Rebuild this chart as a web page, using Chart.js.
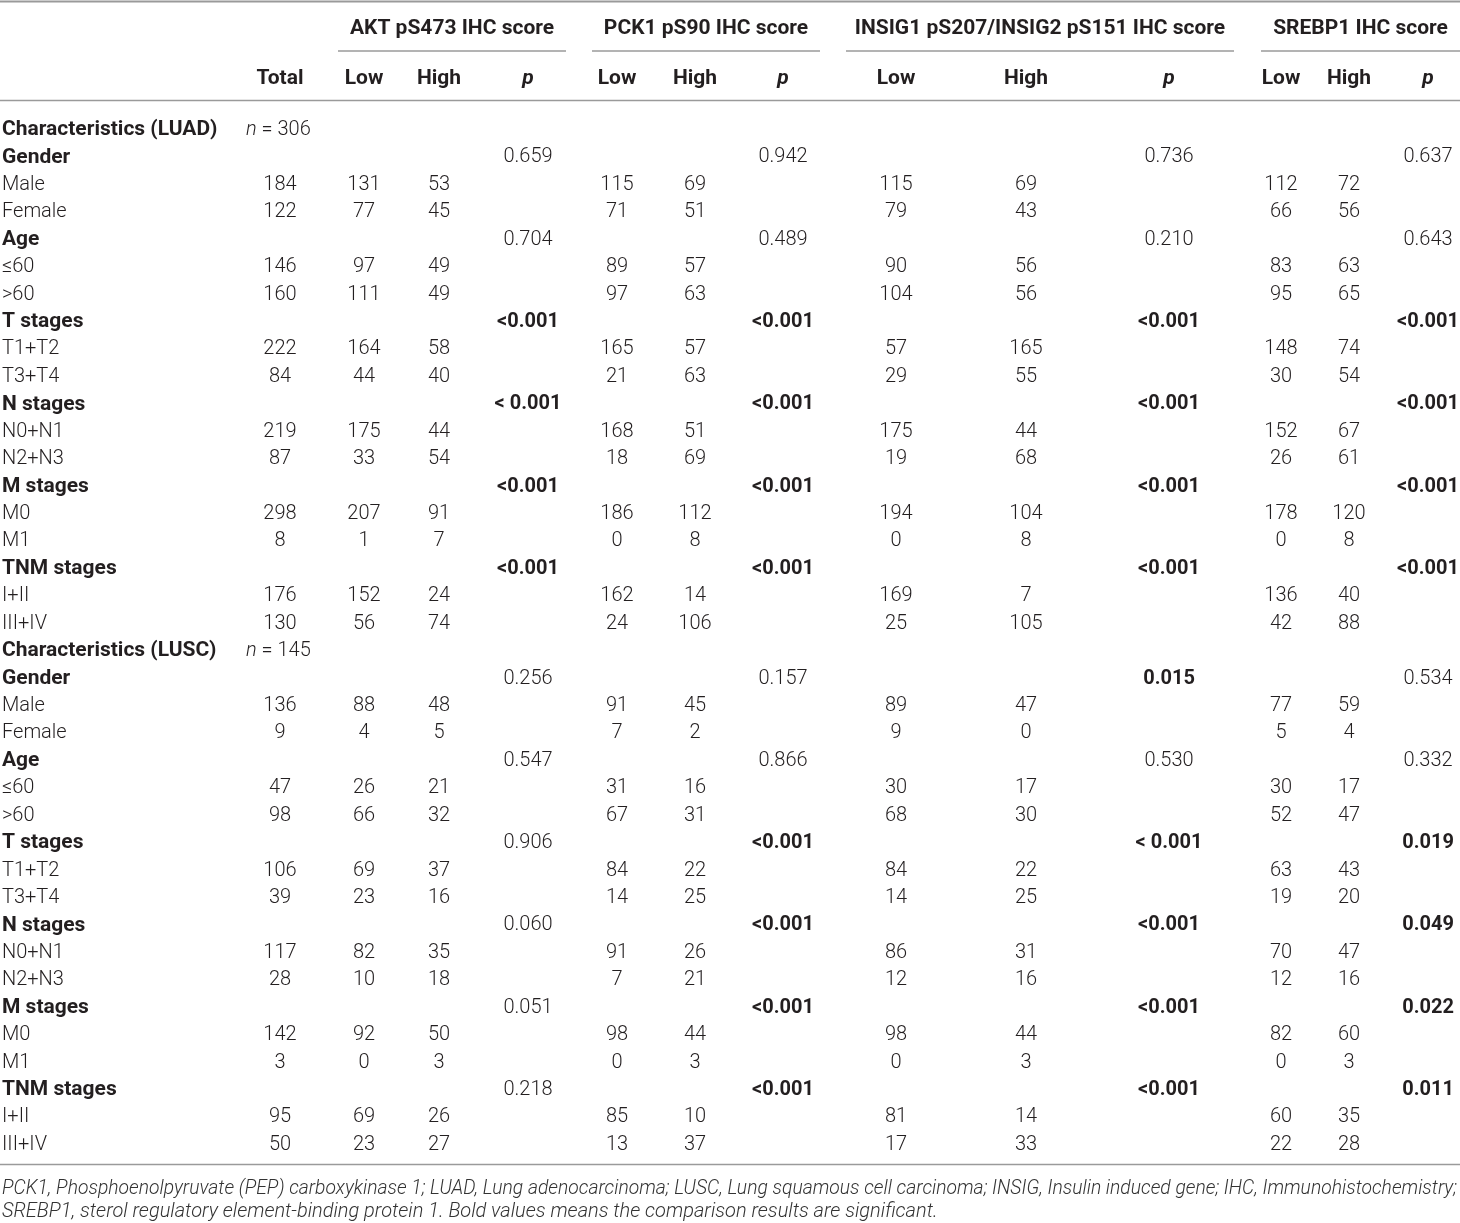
<!DOCTYPE html>
<html>
<head>
<meta charset="utf-8">
<script src="https://cdn.jsdelivr.net/npm/chart.js@4.4.1/dist/chart.umd.min.js"></script>
<style>
  html, body { margin: 0; padding: 0; background: #fff; }
  #wrap { width: 1460px; height: 1223px; }
</style>
</head>
<body>
<div id="wrap"><canvas id="tbl" width="1460" height="1223"></canvas></div>
<script>
// ─────────────────────────────────────────────
//  DATA  (first 12 / 6 entries = LUAD, last = LUSC)
// ─────────────────────────────────────────────
const cohorts  = ['Characteristics (LUAD)', 'Characteristics (LUSC)'];
const cohortN  = ['306', '145'];
const groups   = ['Gender', 'Age', 'T stages', 'N stages', 'M stages', 'TNM stages'];
const levels   = [['Male','Female'], ['≤60','>60'], ['T1+T2','T3+T4'], ['N0+N1','N2+N3'], ['M0','M1'], ['I+II','III+IV']];

const totals   = [184,122,146,160,222,84,219,87,298,8,176,130,   136,9,47,98,106,39,117,28,142,3,95,50];
const aktLow   = [131,77,97,111,164,44,175,33,207,1,152,56,      88,4,26,66,69,23,82,10,92,0,69,23];
const aktHigh  = [53,45,49,49,58,40,44,54,91,7,24,74,            48,5,21,32,37,16,35,18,50,3,26,27];
const pckLow   = [115,71,89,97,165,21,168,18,186,0,162,24,       91,7,31,67,84,14,91,7,98,0,85,13];
const pckHigh  = [69,51,57,63,57,63,51,69,112,8,14,106,          45,2,16,31,22,25,26,21,44,3,10,37];
const insLow   = [115,79,90,104,57,29,175,19,194,0,169,25,       89,9,30,68,84,14,86,12,98,0,81,17];
const insHigh  = [69,43,56,56,165,55,44,68,104,8,7,105,          47,0,17,30,22,25,31,16,44,3,14,33];
const srLow    = [112,66,83,95,148,30,152,26,178,0,136,42,       77,5,30,52,63,19,70,12,82,0,60,22];
const srHigh   = [72,56,63,65,74,54,67,61,120,8,40,88,           59,4,17,47,43,20,47,16,60,3,35,28];

const aktP = ['0.659','0.704','<0.001','< 0.001','<0.001','<0.001',  '0.256','0.547','0.906','0.060','0.051','0.218'];
const pckP = ['0.942','0.489','<0.001','<0.001','<0.001','<0.001',   '0.157','0.866','<0.001','<0.001','<0.001','<0.001'];
const insP = ['0.736','0.210','<0.001','<0.001','<0.001','<0.001',   '0.015','0.530','< 0.001','<0.001','<0.001','<0.001'];
const srP  = ['0.637','0.643','<0.001','<0.001','<0.001','<0.001',   '0.534','0.332','0.019','0.049','0.022','0.011'];

const scoreTitles = ['AKT pS473 IHC score', 'PCK1 pS90 IHC score', 'INSIG1 pS207/INSIG2 pS151 IHC score', 'SREBP1 IHC score'];
const footnote = [
  'PCK1, Phosphoenolpyruvate (PEP) carboxykinase 1; LUAD, Lung adenocarcinoma; LUSC, Lung squamous cell carcinoma; INSIG, Insulin induced gene; IHC, Immunohistochemistry;',
  'SREBP1, sterol regulatory element-binding protein 1. Bold values means the comparison results are significant.'
];

// ─────────────────────────────────────────────
//  LAYOUT
// ─────────────────────────────────────────────
const FONT = 'Roboto, "Liberation Sans", Arial, sans-serif';
const INK  = '#231f20';
const RULE = '#9a9a9a';
const FS_TXT = 21;                          // bold labels / headers
const FS_NUM = 20;                          // numbers, light labels
const ROW0 = 130, ROW_H = 27.43;            // first body row, row pitch
// column centres: total, then low/high/p for each score
const colX = [280, 364, 439, 528, 617, 695, 783, 896, 1026, 1169, 1281, 1349, 1428];
const spans = [[338, 566], [592, 820], [846, 1234], [1261, 1460]];

const sig = p => parseFloat(p.replace(/[<\s]/g, '')) < 0.05;

// build cells: {x, y(row units), t, w(weight), it, al, fs}
const cells = [];
let r = 0;
cohorts.forEach((name, c) => {
  cells.push({ x: 2, y: r, t: name, w: 700, al: 'left', fs: FS_TXT });
  cells.push({ x: 246, y: r, t: 'n', w: 300, it: true, al: 'left', tail: ' = ' + cohortN[c] });
  r++;
  groups.forEach((g, gi) => {
    const k = c * 6 + gi;
    cells.push({ x: 2, y: r, t: g, w: 700, al: 'left', fs: FS_TXT });
    [aktP, pckP, insP, srP].forEach((arr, s) => {
      cells.push({ x: colX[3 + s * 3], y: r, t: arr[k], w: sig(arr[k]) ? 700 : 300 });
    });
    r++;
    levels[gi].forEach((lv, li) => {
      const i = c * 12 + gi * 2 + li;
      cells.push({ x: 2, y: r, t: lv, w: 300, al: 'left' });
      const vals = [totals[i], aktLow[i], aktHigh[i], null, pckLow[i], pckHigh[i], null,
                    insLow[i], insHigh[i], null, srLow[i], srHigh[i]];
      vals.forEach((v, j) => { if (v !== null) cells.push({ x: colX[j], y: r, t: String(v), w: 300 }); });
      r++;
    });
  });
});
// header rows (row units, negative = above body)
const HEAD1 = (29 - ROW0) / ROW_H, HEAD2 = (79 - ROW0) / ROW_H;
spans.forEach((s, i) => cells.push({ x: (s[0] + s[1]) / 2, y: HEAD1, t: scoreTitles[i], w: 700, fs: FS_TXT }));
cells.push({ x: colX[0], y: HEAD2, t: 'Total', w: 700, fs: FS_TXT });
for (let s = 0; s < 4; s++) {
  cells.push({ x: colX[1 + s * 3], y: HEAD2, t: 'Low', w: 700, fs: FS_TXT });
  cells.push({ x: colX[2 + s * 3], y: HEAD2, t: 'High', w: 700, fs: FS_TXT });
  cells.push({ x: colX[3 + s * 3], y: HEAD2, t: 'p', w: 700, it: true, fs: FS_TXT });
}

// ─────────────────────────────────────────────
//  TABLE PLUGIN — rules, cell text, footnote
// ─────────────────────────────────────────────
const tablePlugin = {
  id: 'tableText',
  afterDatasetsDraw(chart) {
    const ctx = chart.ctx;
    const meta = chart.getDatasetMeta(0);
    ctx.save();

    // rules
    ctx.strokeStyle = RULE;
    const hline = (x0, x1, y, lw) => { ctx.lineWidth = lw; ctx.beginPath(); ctx.moveTo(x0, y); ctx.lineTo(x1, y); ctx.stroke(); };
    hline(0, 1460, 1.5, 2);
    spans.forEach(s => hline(s[0], s[1], 51, 1.5));
    hline(0, 1460, 100.5, 1.5);
    hline(0, 1460, 1164.5, 1.5);

    // cells
    ctx.fillStyle = INK;
    ctx.textBaseline = 'middle';
    meta.data.forEach((pt, i) => {
      const c = cells[i];
      ctx.font = `${c.it ? 'italic ' : ''}${c.w} ${c.fs || FS_NUM}px ${FONT}`;
      ctx.textAlign = c.al || 'center';
      ctx.fillText(c.t, pt.x, pt.y);
      if (c.tail) {
        const w = ctx.measureText(c.t).width;
        ctx.font = `300 ${FS_NUM}px ${FONT}`;
        ctx.fillText(c.tail, pt.x + w, pt.y);
      }
    });

    // footnote — first line fills the table width (squeezed if too long, else justified)
    ctx.font = `italic 300 20px ${FONT}`;
    ctx.textAlign = 'left';
    ctx.fillStyle = '#333';
    const full = 1455;
    const natural = ctx.measureText(footnote[0]).width;
    if (natural > full) {
      ctx.save();
      ctx.translate(2, 1189);
      ctx.scale(full / natural, 1);
      ctx.fillText(footnote[0], 0, 0);
      ctx.restore();
    } else {
      const words = footnote[0].split(' ');
      const wsum = words.reduce((a, w) => a + ctx.measureText(w).width, 0);
      const gap = (full - wsum) / (words.length - 1);
      let fx = 2;
      words.forEach(w => { ctx.fillText(w, fx, 1189); fx += ctx.measureText(w).width + gap; });
    }
    ctx.fillText(footnote[1], 2, 1212);

    ctx.restore();
  }
};

new Chart(document.getElementById('tbl'), {
  type: 'scatter',
  data: {
    datasets: [{
      data: cells.map(c => ({ x: c.x, y: c.y })),
      pointRadius: 0, pointHoverRadius: 0
    }]
  },
  options: {
    responsive: false,
    devicePixelRatio: 1,
    animation: false,
    layout: { padding: 0 },
    plugins: { legend: { display: false }, tooltip: { enabled: false } },
    scales: {
      x: { type: 'linear', display: false, min: 0, max: 1460 },
      y: { type: 'linear', display: false, reverse: true,
           min: -ROW0 / ROW_H, max: (1223 - ROW0) / ROW_H }
    }
  },
  plugins: [tablePlugin]
});
</script>
</body>
</html>
